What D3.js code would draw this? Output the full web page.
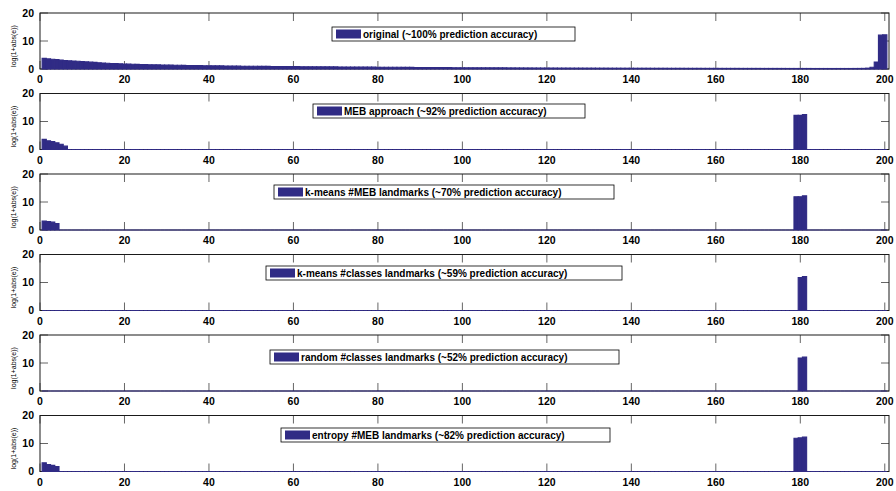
<!DOCTYPE html>
<html>
<head>
<meta charset="utf-8">
<script src="https://cdn.jsdelivr.net/npm/d3@7"></script>
<style>
  html, body { margin: 0; padding: 0; background: #fff; }
  svg { display: block; }
  .tick-label { font-family: "Liberation Sans", Arial, Helvetica, sans-serif; font-weight: bold; font-size: 10.5px; fill: #000; }
  .ylab { font-family: "Liberation Sans", Arial, Helvetica, sans-serif; font-size: 7px; fill: #000; }
  .legend-text { font-family: "Liberation Sans", Arial, Helvetica, sans-serif; font-weight: bold; font-size: 10px; fill: #000; }
</style>
</head>
<body>
<svg id="chart" width="896" height="491"></svg>
<script>
// ---- data ----
const xTicks = [0, 20, 40, 60, 80, 100, 120, 140, 160, 180, 200];
const yTicks = [0, 10, 20];
const yLabel = "log(1+abs(e))";

const seriesNames = [
  "original (~100% prediction accuracy)",
  "MEB approach (~92% prediction accuracy)",
  "k-means #MEB landmarks (~70% prediction accuracy)",
  "k-means #classes landmarks (~59% prediction accuracy)",
  "random #classes landmarks (~52% prediction accuracy)",
  "entropy #MEB landmarks (~82% prediction accuracy)"
];

// full coefficient profile, index 1..200
const original = [
  3.8, 3.6, 3.5, 3.35, 3.2, 3.05, 2.95, 2.85, 2.75, 2.65,
  2.55, 2.45, 2.35, 2.25, 2.15, 2.05, 1.98, 1.92, 1.86, 1.8,
  1.75, 1.7, 1.66, 1.62, 1.58, 1.54, 1.5, 1.47, 1.44, 1.41,
  1.38, 1.35, 1.32, 1.3, 1.27, 1.25, 1.22, 1.2, 1.18, 1.16,
  1.14, 1.12, 1.1, 1.08, 1.06, 1.04, 1.02, 1.0, 0.99, 0.97,
  0.96, 0.95, 0.93, 0.92, 0.91, 0.9, 0.88, 0.87, 0.86, 0.85,
  0.84, 0.83, 0.82, 0.81, 0.8, 0.79, 0.78, 0.77, 0.76, 0.75,
  0.74, 0.73, 0.72, 0.71, 0.7, 0.69, 0.68, 0.67, 0.66, 0.65,
  0.64, 0.63, 0.62, 0.61, 0.6, 0.59, 0.58, 0.57, 0.56, 0.55,
  0.54, 0.53, 0.52, 0.51, 0.5, 0.49, 0.48, 0.47, 0.46, 0.45,
  0.44, 0.44, 0.43, 0.43, 0.42, 0.42, 0.41, 0.41, 0.4, 0.4,
  0.39, 0.39, 0.38, 0.38, 0.37, 0.37, 0.36, 0.36, 0.35, 0.35,
  0.34, 0.34, 0.33, 0.33, 0.33, 0.32, 0.32, 0.32, 0.31, 0.31,
  0.31, 0.3, 0.3, 0.3, 0.29, 0.29, 0.29, 0.28, 0.28, 0.28,
  0.27, 0.27, 0.27, 0.27, 0.26, 0.26, 0.26, 0.26, 0.25, 0.25,
  0.25, 0.25, 0.24, 0.24, 0.24, 0.24, 0.23, 0.23, 0.23, 0.23,
  0.22, 0.22, 0.22, 0.22, 0.22, 0.21, 0.21, 0.21, 0.21, 0.21,
  0.2, 0.2, 0.2, 0.2, 0.2, 0.2, 0.19, 0.19, 0.19, 0.19,
  0.19, 0.19, 0.18, 0.18, 0.18, 0.18, 0.18, 0.18, 0.18, 0.18,
  0.18, 0.18, 0.19, 0.2, 0.22, 0.3, 0.6, 2.5, 12.1, 12.2
];

// approximations: nonzero entries as [index, value]; all other indices are 0
const mebBars = [[1, 3.6], [2, 3.1], [3, 2.8], [4, 2.4], [5, 1.9], [6, 1.2],
                 [179, 12.2], [180, 12.2], [181, 12.5]];
const kmeansMebBars = [[1, 3.2], [2, 3.0], [3, 2.8], [4, 2.3],
                       [179, 11.9], [180, 11.9], [181, 12.2]];
const kmeansClassesBars = [[180, 11.8], [181, 12.1]];
const randomClassesBars = [[180, 11.8], [181, 12.1]];
const entropyMebBars = [[1, 3.1], [2, 2.5], [3, 2.2], [4, 1.8],
                        [179, 11.9], [180, 12.0], [181, 12.3]];

const N = 200;
const indices = d3.range(1, N + 1);
function expand(pairs) {
  const m = new Map(pairs);
  return indices.map(i => m.has(i) ? m.get(i) : 0);
}
const allSeries = [
  original,
  expand(mebBars),
  expand(kmeansMebBars),
  expand(kmeansClassesBars),
  expand(randomClassesBars),
  expand(entropyMebBars)
];

// ---- layout ----
const barColor = "#302b85";
const plotLeft = 40, plotRight = 889, panelH = 56;
const firstBottom = 69, panelStep = 80.5;
// legend box horizontal extent and vertical offset from panel top
const legendLayout = [
  { x0: 332, x1: 575, dy: 14 },
  { x0: 313, x1: 585, dy: 10.5 },
  { x0: 274, x1: 614, dy: 11 },
  { x0: 266, x1: 622, dy: 11.5 },
  { x0: 270, x1: 619, dy: 15 },
  { x0: 281, x1: 610, dy: 12.5 }
];

const svg = d3.select("#chart");
const x = d3.scaleLinear().domain([0, 201]).range([plotLeft, plotRight]);

allSeries.forEach((values, p) => {
  const bottom = firstBottom + p * panelStep;
  const top = bottom - panelH;
  const y = d3.scaleLinear().domain([0, 20]).range([bottom, top]);
  const g = svg.append("g");

  // inward ticks (drawn under the bars)
  const tickCol = "#666";
  xTicks.forEach(t => {
    g.append("line").attr("x1", x(t)).attr("x2", x(t)).attr("y1", bottom).attr("y2", bottom - 8)
      .attr("stroke", tickCol).attr("stroke-width", 1);
    g.append("line").attr("x1", x(t)).attr("x2", x(t)).attr("y1", top).attr("y2", top + 8)
      .attr("stroke", tickCol).attr("stroke-width", 1);
  });
  yTicks.forEach(t => {
    g.append("line").attr("x1", plotLeft).attr("x2", plotLeft + 8).attr("y1", y(t)).attr("y2", y(t))
      .attr("stroke", tickCol).attr("stroke-width", 1);
    g.append("line").attr("x1", plotRight).attr("x2", plotRight - 8).attr("y1", y(t)).attr("y2", y(t))
      .attr("stroke", tickCol).attr("stroke-width", 1);
  });

  // axes box
  g.append("rect").attr("x", plotLeft).attr("y", top)
    .attr("width", plotRight - plotLeft).attr("height", panelH)
    .attr("fill", "none").attr("stroke", "#1a1a1a").attr("stroke-width", 1);

  // bars (zero-height bars still show their edge along the baseline)
  g.append("g").selectAll("path")
    .data(values.map((v, i) => ({ i: i + 1, v })))
    .join("path")
    .attr("d", d => {
      const x0 = x(d.i - 0.5), x1 = x(d.i + 0.5);
      return `M${x0},${y(0)}H${x1}V${y(d.v)}H${x0}Z`;
    })
    .attr("fill", barColor)
    .attr("stroke", barColor)
    .attr("stroke-width", 1.1);

  // tick labels
  xTicks.forEach(t => {
    g.append("text").attr("class", "tick-label").attr("x", x(t)).attr("y", bottom + 14)
      .attr("text-anchor", "middle").text(t);
  });
  yTicks.forEach(t => {
    g.append("text").attr("class", "tick-label").attr("x", 34).attr("y", y(t) + 3.8)
      .attr("text-anchor", "end").text(t);
  });

  // y axis label
  g.append("text").attr("class", "ylab")
    .attr("transform", `translate(16,${(top + bottom) / 2 + 5}) rotate(-90)`)
    .attr("text-anchor", "middle").text(yLabel);

  // legend
  const L = legendLayout[p];
  const ly = top + L.dy;
  const lg = g.append("g");
  lg.append("rect").attr("x", L.x0).attr("y", ly).attr("width", L.x1 - L.x0).attr("height", 14)
    .attr("fill", "#fff").attr("stroke", "#000").attr("stroke-width", 0.8);
  lg.append("rect").attr("x", L.x0 + 4).attr("y", ly + 2.5).attr("width", 25).attr("height", 9)
    .attr("fill", barColor);
  lg.append("text").attr("class", "legend-text").attr("x", L.x0 + 31).attr("y", ly + 10.5)
    .text(seriesNames[p]);
});
</script>
</body>
</html>
